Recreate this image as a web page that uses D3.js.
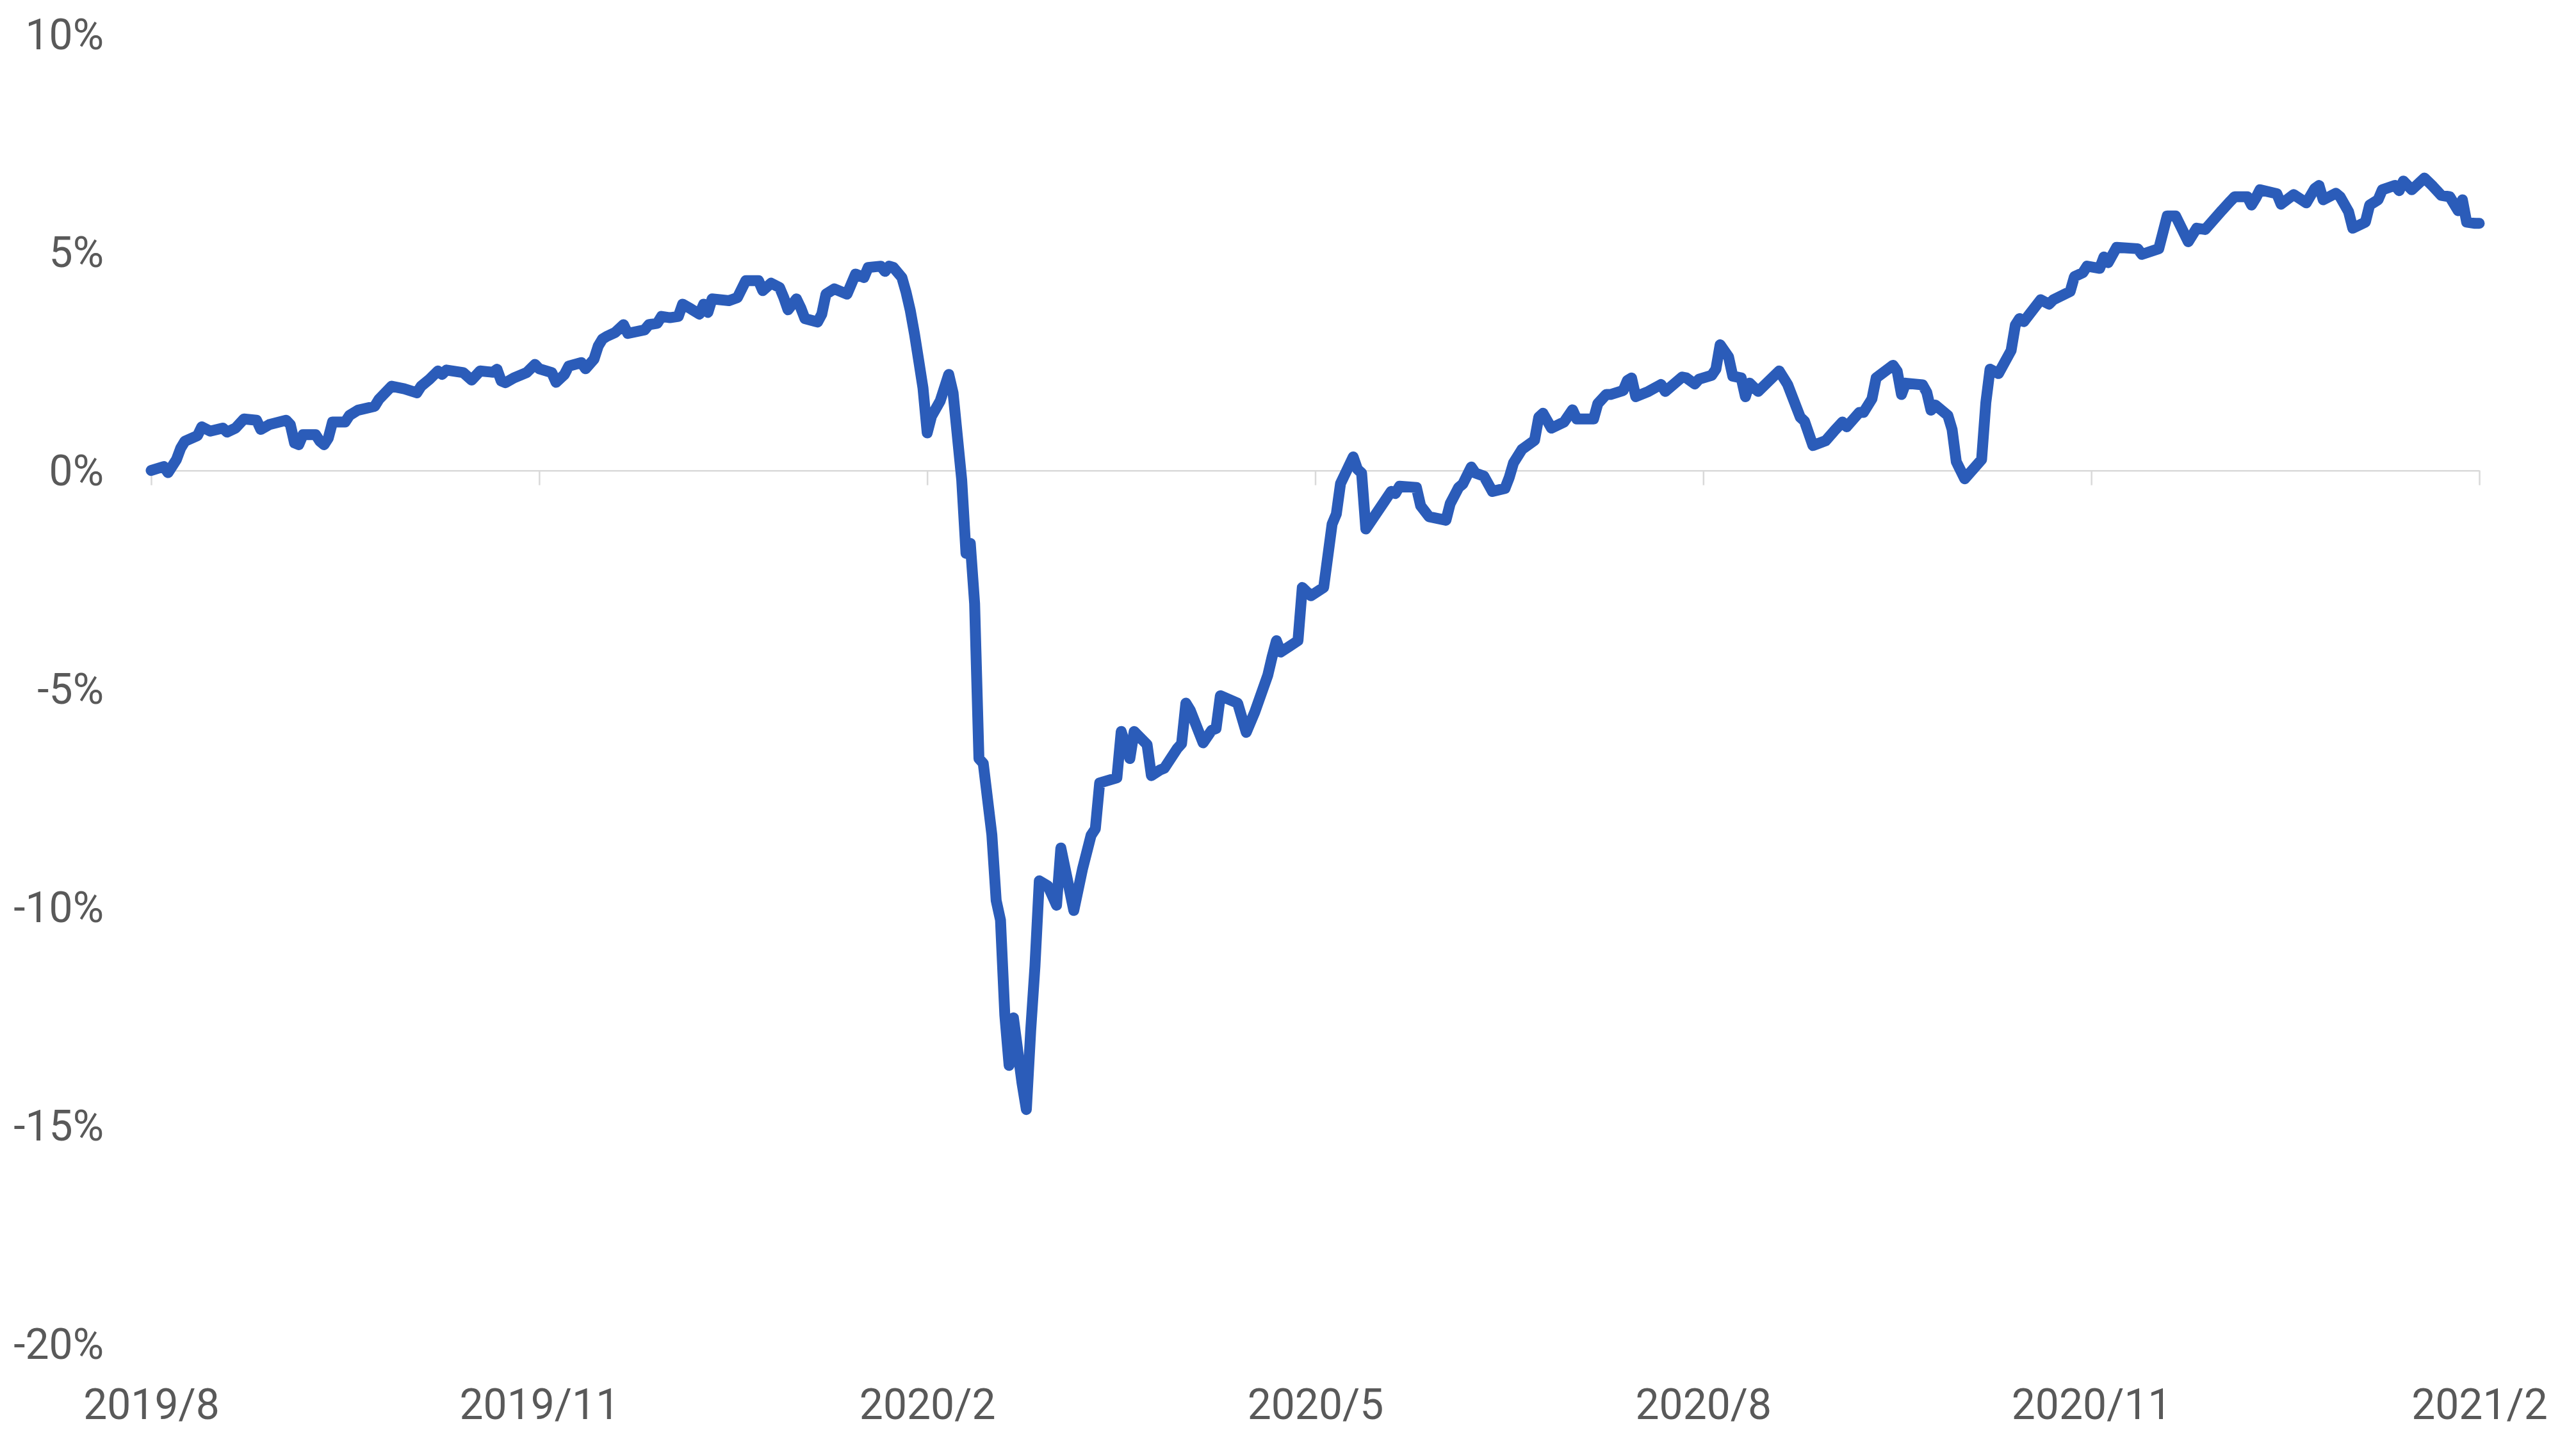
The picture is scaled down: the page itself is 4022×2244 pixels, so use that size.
<!DOCTYPE html>
<html>
<head>
<meta charset="utf-8">
<script src="https://cdn.jsdelivr.net/npm/d3@7"></script>
<style>
  html, body { margin: 0; padding: 0; background: #ffffff; }
  svg { display: block; }
</style>
</head>
<body>
<svg id="chart" width="4022" height="2244"></svg>
<script>
// ---- data ----
const dates = [
  "2019-08-01","2019-08-04","2019-08-05","2019-08-07","2019-08-08","2019-08-09","2019-08-12","2019-08-13","2019-08-15","2019-08-18","2019-08-19","2019-08-21","2019-08-23","2019-08-26","2019-08-27","2019-08-29",
  "2019-09-02","2019-09-03","2019-09-04","2019-09-05","2019-09-06","2019-09-09","2019-09-10","2019-09-11","2019-09-12","2019-09-13","2019-09-16","2019-09-17","2019-09-19","2019-09-23","2019-09-24","2019-09-27","2019-09-30",
  "2019-10-03","2019-10-04","2019-10-06","2019-10-08","2019-10-09","2019-10-10","2019-10-14","2019-10-16","2019-10-18","2019-10-21","2019-10-22","2019-10-23","2019-10-24","2019-10-26","2019-10-29","2019-10-31",
  "2019-11-01","2019-11-04","2019-11-05","2019-11-07","2019-11-08","2019-11-11","2019-11-12","2019-11-14","2019-11-15","2019-11-16","2019-11-17","2019-11-19","2019-11-21","2019-11-22","2019-11-26","2019-11-27","2019-11-29","2019-11-30",
  "2019-12-02","2019-12-04","2019-12-05","2019-12-07","2019-12-09","2019-12-10","2019-12-11","2019-12-12","2019-12-16","2019-12-18","2019-12-20","2019-12-23","2019-12-24","2019-12-26","2019-12-28","2019-12-29","2019-12-30",
  "2020-01-01","2020-01-02","2020-01-03","2020-01-06","2020-01-07","2020-01-08","2020-01-10","2020-01-13","2020-01-14","2020-01-15","2020-01-17","2020-01-18","2020-01-21","2020-01-22","2020-01-23","2020-01-24","2020-01-26","2020-01-27","2020-01-28","2020-01-29","2020-01-30","2020-01-31",
  "2020-02-01","2020-02-02","2020-02-04","2020-02-06","2020-02-07","2020-02-09","2020-02-10","2020-02-11","2020-02-12","2020-02-13","2020-02-14","2020-02-16","2020-02-17","2020-02-18","2020-02-19","2020-02-20","2020-02-21","2020-02-23","2020-02-24","2020-02-25","2020-02-26","2020-02-27","2020-02-29",
  "2020-03-02","2020-03-03","2020-03-06","2020-03-08","2020-03-10","2020-03-11","2020-03-12","2020-03-16","2020-03-17","2020-03-19","2020-03-20","2020-03-23","2020-03-24","2020-03-26","2020-03-27","2020-03-30","2020-03-31",
  "2020-04-01","2020-04-02","2020-04-05","2020-04-07","2020-04-08","2020-04-09","2020-04-13","2020-04-15","2020-04-17","2020-04-20","2020-04-21","2020-04-22","2020-04-23","2020-04-27","2020-04-28","2020-04-30",
  "2020-05-03","2020-05-05","2020-05-06","2020-05-07","2020-05-10","2020-05-11","2020-05-12","2020-05-13","2020-05-19","2020-05-20","2020-05-21","2020-05-25","2020-05-26","2020-05-28",
  "2020-06-01","2020-06-02","2020-06-04","2020-06-05","2020-06-07","2020-06-08","2020-06-10","2020-06-12","2020-06-15","2020-06-16","2020-06-17","2020-06-19","2020-06-22","2020-06-23","2020-06-24","2020-06-26","2020-06-29",
  "2020-07-01","2020-07-02","2020-07-06","2020-07-07","2020-07-09","2020-07-10","2020-07-13","2020-07-14","2020-07-15","2020-07-16","2020-07-19","2020-07-22","2020-07-23","2020-07-27","2020-07-28","2020-07-30","2020-07-31",
  "2020-08-03","2020-08-04","2020-08-05","2020-08-07","2020-08-08","2020-08-10","2020-08-11","2020-08-12","2020-08-14","2020-08-19","2020-08-21","2020-08-24","2020-08-25","2020-08-27","2020-08-30",
  "2020-09-01","2020-09-03","2020-09-04","2020-09-07","2020-09-08","2020-09-10","2020-09-11","2020-09-15","2020-09-16","2020-09-17","2020-09-18","2020-09-22","2020-09-23","2020-09-24","2020-09-25","2020-09-28","2020-09-29","2020-09-30",
  "2020-10-02","2020-10-06","2020-10-07","2020-10-08","2020-10-10","2020-10-13","2020-10-14","2020-10-15","2020-10-16","2020-10-20","2020-10-22","2020-10-23","2020-10-27","2020-10-28","2020-10-30","2020-10-31",
  "2020-11-03","2020-11-04","2020-11-05","2020-11-07","2020-11-12","2020-11-13","2020-11-17","2020-11-19","2020-11-21","2020-11-24","2020-11-26","2020-11-28",
  "2020-12-02","2020-12-04","2020-12-05","2020-12-08","2020-12-09","2020-12-10","2020-12-11","2020-12-15","2020-12-16","2020-12-19","2020-12-22","2020-12-24","2020-12-25","2020-12-26","2020-12-29","2020-12-30",
  "2021-01-01","2021-01-02","2021-01-05","2021-01-06","2021-01-08","2021-01-09","2021-01-12","2021-01-13","2021-01-14","2021-01-16","2021-01-19","2021-01-21","2021-01-23","2021-01-25","2021-01-27","2021-01-28","2021-01-29","2021-01-31","2021-02-01"
];

const values = [
  0.00, 0.09, -0.05, 0.25, 0.51, 0.67, 0.80, 1.00, 0.90, 0.97, 0.88, 0.97, 1.18, 1.15, 0.94, 1.05,
  1.15, 1.05, 0.63, 0.59, 0.82, 0.82, 0.67, 0.59, 0.74, 1.11, 1.11, 1.26, 1.38, 1.47, 1.63, 1.93, 1.87,
  1.78, 1.93, 2.09, 2.28, 2.20, 2.30, 2.24, 2.07, 2.28, 2.25, 2.32, 2.05, 2.01, 2.12, 2.24, 2.43,
  2.33, 2.24, 2.02, 2.20, 2.39, 2.47, 2.33, 2.55, 2.85, 3.01, 3.07, 3.16, 3.34, 3.14, 3.22, 3.34, 3.37, 3.53,
  3.50, 3.53, 3.81, 3.70, 3.58, 3.81, 3.62, 3.93, 3.89, 3.96, 4.35, 4.35, 4.12, 4.29, 4.19, 3.96, 3.68,
  3.93, 3.73, 3.48, 3.40, 3.58, 4.04, 4.16, 4.04, 4.27, 4.50, 4.42, 4.65, 4.68, 4.56, 4.68, 4.65, 4.42, 4.08, 3.66, 3.12, 2.51, 1.89,
  0.86, 1.24, 1.59, 2.20, 1.78, -0.21, -1.90, -1.67, -3.05, -6.60, -6.71, -8.35, -9.85, -10.30, -12.47, -13.63, -12.54, -14.04, -14.64, -12.84, -11.35, -9.40, -9.52,
  -9.96, -8.65, -10.08, -9.14, -8.36, -8.21, -7.16, -7.04, -5.98, -6.60, -5.98, -6.28, -6.99, -6.86, -6.82, -6.37, -6.26,
  -5.33, -5.49, -6.24, -5.95, -5.91, -5.16, -5.33, -6.00, -5.53, -4.69, -4.27, -3.90, -4.16, -3.90, -2.68, -2.87,
  -2.68, -1.23, -1.00, -0.30, 0.31, 0.03, -0.06, -1.34, -0.48, -0.53, -0.36, -0.39, -0.81, -1.06,
  -1.14, -0.76, -0.39, -0.31, 0.08, -0.06, -0.13, -0.48, -0.41, -0.16, 0.17, 0.48, 0.69, 1.22, 1.31, 0.97, 1.11,
  1.39, 1.18, 1.18, 1.53, 1.74, 1.74, 1.83, 2.06, 2.12, 1.69, 1.81, 1.97, 1.81, 2.14, 2.12, 1.98, 2.09,
  2.18, 2.32, 2.88, 2.60, 2.16, 2.12, 1.69, 2.00, 1.81, 2.28, 1.97, 1.22, 1.13, 0.57, 0.68,
  0.90, 1.11, 1.00, 1.33, 1.33, 1.64, 2.12, 2.41, 2.27, 1.74, 2.00, 1.96, 1.79, 1.38, 1.50, 1.26, 0.94, 0.20,
  -0.19, 0.25, 1.55, 2.32, 2.22, 2.75, 3.33, 3.48, 3.41, 3.91, 3.81, 3.91, 4.10, 4.44, 4.53, 4.68,
  4.63, 4.89, 4.76, 5.11, 5.08, 4.95, 5.08, 5.83, 5.83, 5.24, 5.55, 5.52,
  5.96, 6.17, 6.27, 6.27, 6.08, 6.24, 6.43, 6.34, 6.10, 6.32, 6.13, 6.46, 6.53, 6.20, 6.35, 6.27,
  5.93, 5.55, 5.69, 6.08, 6.20, 6.43, 6.53, 6.41, 6.63, 6.43, 6.70, 6.51, 6.30, 6.27, 5.95, 6.20, 5.69, 5.66, 5.66
];

const xTickDates  = ["2019-08-01","2019-11-01","2020-02-01","2020-05-01","2020-08-01","2020-11-01","2021-02-01"];
const xTickLabels = ["2019/8","2019/11","2020/2","2020/5","2020/8","2020/11","2021/2"];
const yTickValues = [10, 5, 0, -5, -10, -15, -20];
const yTickLabels = ["10%","5%","0%","-5%","-10%","-15%","-20%"];

// ---- layout ----
const W = 4022, H = 2244;
const plotLeft = 236, plotRight = 3871, plotTop = 53, plotBottom = 2098;
const labelFont = "Roboto, 'Open Sans', sans-serif";
const labelColor = "#595959";
const axisColor = "#d9d9d9";
const lineColor = "#2b5cb9";

const parse = d3.timeParse("%Y-%m-%d");
if (dates.length !== values.length) console.error("length mismatch", dates.length, values.length);
const data = dates.map((d, i) => ({ date: parse(d), value: values[i] }));
const tickDates = xTickDates.map(parse);

// Date axis where each 3-month interval gets equal width
const x = d3.scaleTime()
  .domain(tickDates)
  .range(tickDates.map((d, i) => plotLeft + i * (plotRight - plotLeft) / (tickDates.length - 1)));
const y = d3.scaleLinear().domain([-20, 10]).range([plotBottom, plotTop]);

const svg = d3.select("#chart").attr("width", W).attr("height", H);
svg.append("rect").attr("width", W).attr("height", H).attr("fill", "#ffffff");

// x axis on the zero line, labels at the bottom
const y0 = y(0);
const xAxis = d3.axisBottom(x)
  .tickValues(tickDates)
  .tickSize(23)
  .tickSizeOuter(0)
  .tickFormat((d, i) => xTickLabels[i]);

const gx = svg.append("g").attr("transform", `translate(0,${y0})`).call(xAxis);
gx.select(".domain").attr("stroke", axisColor).attr("stroke-width", 2.5);
gx.selectAll(".tick line").attr("stroke", axisColor).attr("stroke-width", 2.5);
gx.selectAll(".tick text")
  .attr("y", 2216 - y0)
  .attr("dy", 0)
  .attr("fill", labelColor)
  .style("font-family", labelFont)
  .style("font-size", "66px");

// y axis labels (no axis line)
const yAxis = d3.axisLeft(y)
  .tickValues(yTickValues)
  .tickSize(0)
  .tickPadding(0)
  .tickFormat((d, i) => yTickLabels[i]);
const gy = svg.append("g").attr("transform", `translate(162,0)`).call(yAxis);
gy.select(".domain").remove();
gy.selectAll(".tick text")
  .attr("x", 0)
  .attr("dy", "0.35em")
  .attr("fill", labelColor)
  .style("font-family", labelFont)
  .style("font-size", "66px");

// series line
const line = d3.line()
  .x(d => x(d.date))
  .y(d => y(d.value));

svg.append("path")
  .datum(data)
  .attr("d", line)
  .attr("fill", "none")
  .attr("stroke", lineColor)
  .attr("stroke-width", 17)
  .attr("stroke-linejoin", "round")
  .attr("stroke-linecap", "round");
</script>
</body>
</html>
